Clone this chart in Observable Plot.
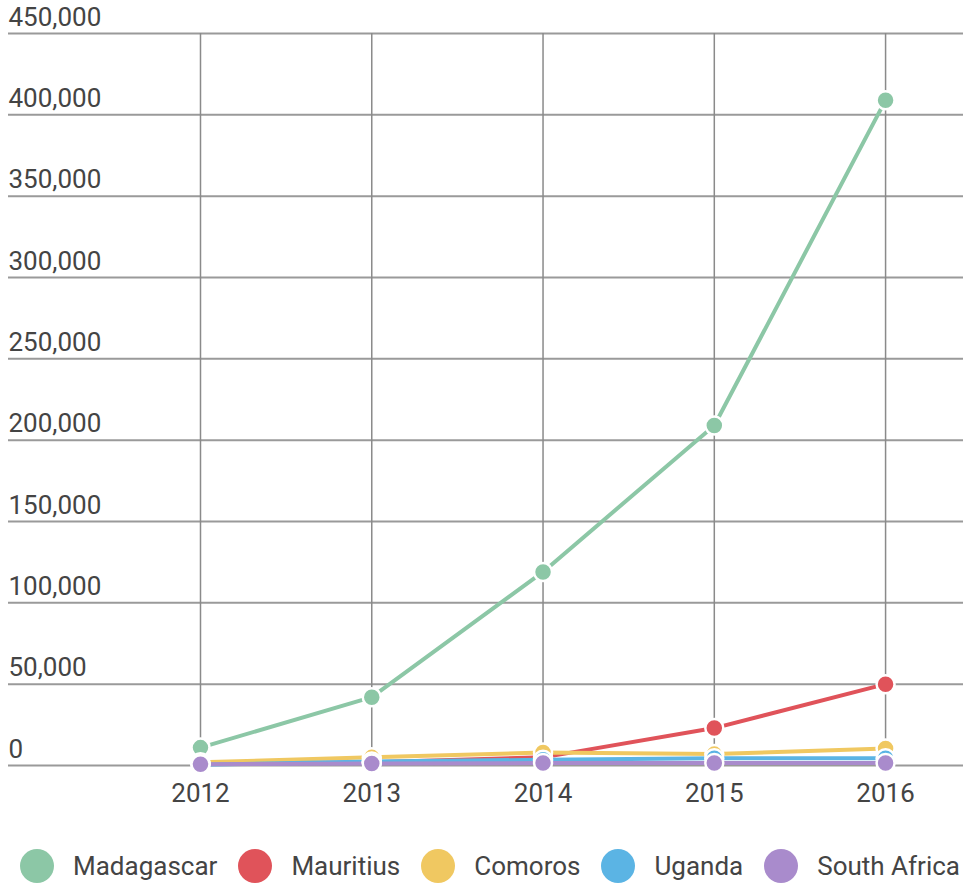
<!DOCTYPE html>
<html>
<head>
<meta charset="utf-8">
<script src="https://cdn.jsdelivr.net/npm/d3@7"></script>
<script src="https://cdn.jsdelivr.net/npm/@observablehq/plot@0.6"></script>
<style>
  html, body { margin: 0; padding: 0; background: #fff; }
  body { width: 963px; font-family: Roboto, "Noto Sans", sans-serif; }
  #legend { display: flex; align-items: center; height: 36px; margin-top: 38px; padding-left: 20px; white-space: nowrap; }
  .item { display: flex; align-items: center; margin-right: 21px; font-size: 26px; color: #444; white-space: nowrap; }
  .item:last-child { margin-right: 0; }
  .sw { flex: none; width: 34px; height: 34px; border-radius: 50%; margin-right: 19px; }
</style>
</head>
<body>
<div id="chart"></div>
<div id="legend"></div>
<script>
const years = [2012, 2013, 2014, 2015, 2016];
const countries = ["Madagascar", "Mauritius", "Comoros", "Uganda", "South Africa"];
const colors = ["#8cc7a6", "#e0535a", "#f0c861", "#5bb4e4", "#a98bcc"];
const madagascar = [11000, 42000, 119000, 209000, 409000];
const mauritius = [1000, 2000, 5000, 23000, 50000];
const comoros = [2000, 5000, 8000, 7000, 10500];
const uganda = [500, 2500, 3500, 4500, 4500];
const southAfrica = [800, 1200, 1500, 1500, 1500];
const yTicks = [0, 50000, 100000, 150000, 200000, 250000, 300000, 350000, 400000, 450000];

const seriesValues = [madagascar, mauritius, comoros, uganda, southAfrica];
const data = countries.flatMap((c, i) => years.map((y, j) => ({country: c, year: y, value: seriesValues[i][j]})));
const fmt = d3.format(",");

const marks = [
  Plot.ruleY(yTicks, {stroke: "#9a9a9a", strokeWidth: 2}),
  Plot.ruleX(years, {y1: 0, y2: 450000, stroke: "#8a8a8a", strokeWidth: 1.5}),
  Plot.text(yTicks, {y: d => d, text: d => fmt(d), frameAnchor: "left", textAnchor: "start", lineAnchor: "bottom", dy: -8, fontSize: 26, fill: "#444"}),
  Plot.axisX({ticks: years, tickFormat: d => String(d), tickSize: 0, tickPadding: 18, fontSize: 26, color: "#444", label: null})
];
countries.forEach((c, i) => {
  marks.push(Plot.line(data.filter(d => d.country === c), {x: "year", y: "value", stroke: colors[i], strokeWidth: 4}));
});
countries.forEach((c, i) => {
  marks.push(Plot.dot(data.filter(d => d.country === c), {x: "year", y: "value", fill: colors[i], r: 9, stroke: "#fff", strokeWidth: 2.5}));
});

const chart = Plot.plot({
  width: 963,
  height: 810,
  marginLeft: 8,
  marginRight: 0,
  marginTop: 33,
  marginBottom: 45,
  style: {fontFamily: "Roboto, sans-serif", background: "#fff"},
  x: {domain: [2010.879, 2016.455], axis: null},
  y: {domain: [0, 450000], axis: null},
  marks
});
document.getElementById("chart").appendChild(chart);

const legend = document.getElementById("legend");
countries.forEach((c, i) => {
  const it = document.createElement("div");
  it.className = "item";
  it.innerHTML = `<span class="sw" style="background:${colors[i]}"></span><span>${c}</span>`;
  legend.appendChild(it);
});
</script>
</body>
</html>
